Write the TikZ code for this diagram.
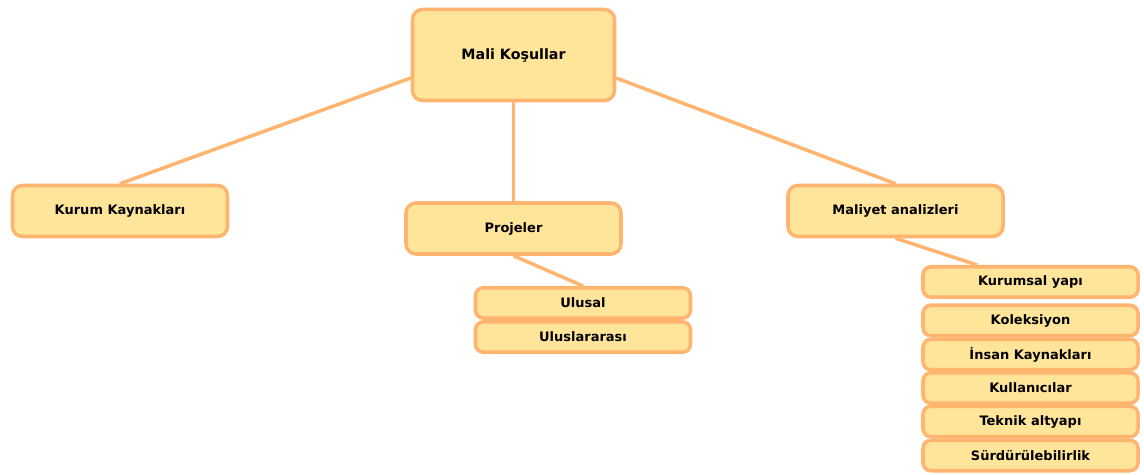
\documentclass[tikz,border=0pt]{standalone}
\usepackage{fontspec}
\setmainfont{DejaVu Sans}
\usepackage{xcolor}
\usepackage{tikz}
\usetikzlibrary{positioning, calc}
\definecolor{boxfill}{RGB}{255,229,153}
\definecolor{boxline}{RGB}{255,181,112}

\tikzset{
    topbox/.style={draw=boxline, fill=boxfill, line width=2pt, rounded corners=0.2cm, minimum width=4.3cm, minimum height=1.02cm, font=\fontsize{7.4}{9}\selectfont\bfseries},
    subbox/.style={draw=boxline, fill=boxfill, line width=2pt, rounded corners=0.16cm, minimum width=4.3cm, minimum height=0.61cm, font=\fontsize{7.4}{9}\selectfont\bfseries},
    link/.style={draw=boxline, line width=2pt}
}

\begin{document}
\begin{tikzpicture}
    \useasboundingbox (0,0) rectangle (22.88,9.5);

    % Root
    \node[topbox, minimum width=4.04cm, minimum height=1.82cm, font=\fontsize{8.1}{10}\selectfont\bfseries] (mali) at (10.27,8.4) {Mali Koşullar};

    % Second level
    \node[topbox] (kurum) at (2.4,5.28) {Kurum Kaynakları};
    \node[topbox] (proje) at (10.27,4.93) {Projeler};
    \node[topbox] (maliyet) at (17.91,5.28) {Maliyet analizleri};

    % Projeler
    \node[subbox] (ulusal) at (11.66,3.44) {Ulusal};
    \node[subbox] (uluslar) at (11.66,2.76) {Uluslararası};

    % Maliyet analizleri
    \node[subbox] (kurumsal) at (20.61,3.86) {Kurumsal yapı};
    \node[subbox] (koleksiyon) at (20.61,3.09) {Koleksiyon};
    \node[subbox] (insan) at (20.61,2.41) {İnsan Kaynakları};
    \node[subbox] (kullanici) at (20.61,1.74) {Kullanıcılar};
    \node[subbox] (teknik) at (20.61,1.07) {Teknik altyapı};
    \node[subbox] (surdur) at (20.61,0.39) {Sürdürülebilirlik};

    % Connectors
    \draw[link] ($(mali.west)+(0,-0.46)$) -- (kurum.north);
    \draw[link] (mali.south) -- (proje.north);
    \draw[link] ($(mali.east)+(0,-0.46)$) -- (maliyet.north);
    \draw[link] (proje.south) -- (ulusal.north);
    \draw[link] (maliyet.south) -- ($(kurumsal.north west)+(1.12,0)$);
\end{tikzpicture}
\end{document}
